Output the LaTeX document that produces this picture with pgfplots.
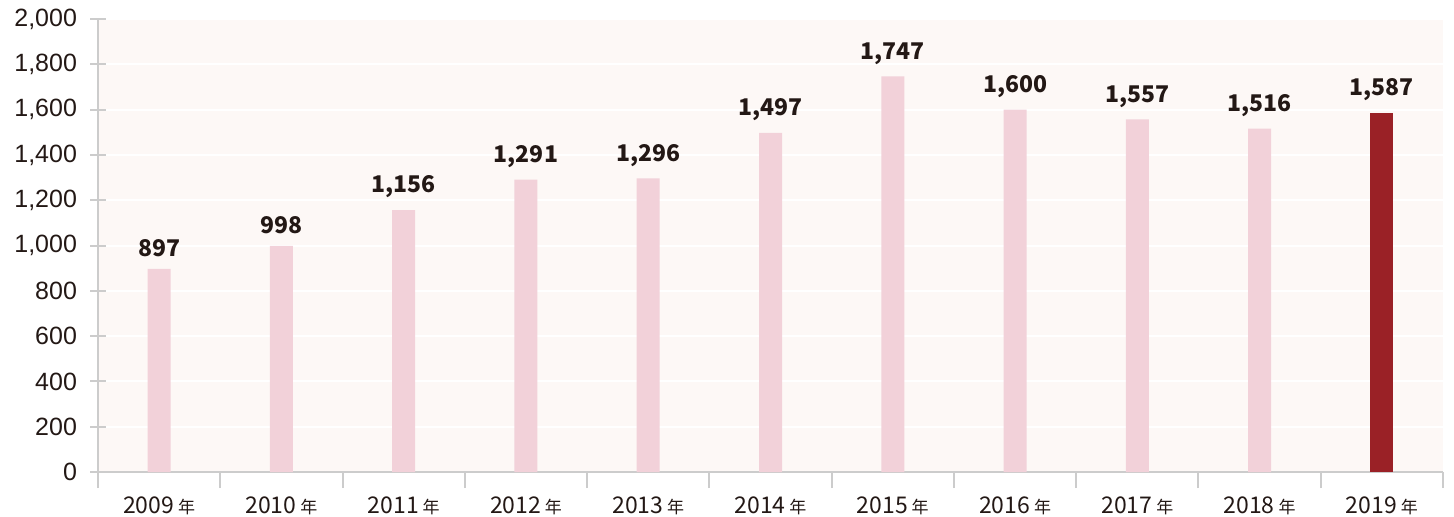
\documentclass[border=0pt]{standalone}
\usepackage{fontspec}
\setmainfont{Liberation Sans}
\newfontfamily\cjk{Noto Sans CJK JP}
\usepackage{pgfplots}
\pgfplotsset{compat=1.18}
\definecolor{barpink}{HTML}{F2D1D9}
\definecolor{bardark}{HTML}{9A2126}
\definecolor{bgpink}{HTML}{FDF8F6}
\definecolor{axgray}{HTML}{CCCCCC}
\definecolor{txt}{HTML}{231815}
\newcommand{\yr}[1]{{\cjk\fontsize{11.5pt}{13pt}\selectfont #1\,{\fontsize{8.5pt}{9pt}\selectfont 年}}}
\begin{document}
\begin{tikzpicture}
\useasboundingbox (-49pt,-22pt) rectangle (678pt,236pt);
\begin{axis}[
  scale only axis,
  width=672.5pt, height=226.5pt,
  xmin=-0.5, xmax=10.5,
  ymin=0, ymax=2000,
  ytick={0,200,...,2000},
  xtick={0,...,10},
  xticklabels={\yr{2009},\yr{2010},\yr{2011},\yr{2012},\yr{2013},\yr{2014},\yr{2015},\yr{2016},\yr{2017},\yr{2018},\yr{2019}},
  minor xtick={-0.5,0.5,...,10.5},
  major x tick style={draw=none},
  x tick style={draw=axgray, line width=1pt},
  y tick style={draw=axgray, line width=1pt},
  minor tick length=8pt,
  major tick length=8pt,
  tick align=outside,
  axis line style={draw=axgray, line width=1pt},
  axis x line=bottom,
  axis y line=left,
  separate axis lines,
  x axis line style={-},
  y axis line style={-},
  axis background/.style={fill=bgpink},
  ymajorgrids,
  grid style={draw=white, line width=1pt},
  tick label style={text=txt},
  yticklabel style={font=\fontsize{12.5pt}{14pt}\selectfont, xshift=-3pt},
  xticklabel style={yshift=-1pt},
  /pgf/number format/assume math mode=true,
  /pgf/number format/1000 sep={,},
  scaled y ticks=false,
  ybar, bar width=11.5pt, bar shift=0pt,
  nodes near coords,
  every node near coord/.append style={font=\cjk\bfseries\fontsize{11.5pt}{14pt}\selectfont, text=txt, yshift=2.5pt},
  clip=false,
]
\addplot[fill=barpink, draw=none] coordinates {
  (0,897) (1,998) (2,1156) (3,1291) (4,1296) (5,1497) (6,1747) (7,1600) (8,1557) (9,1516)
};
\addplot[fill=bardark, draw=none] coordinates {(10,1587)};
\end{axis}
\end{tikzpicture}
\end{document}
